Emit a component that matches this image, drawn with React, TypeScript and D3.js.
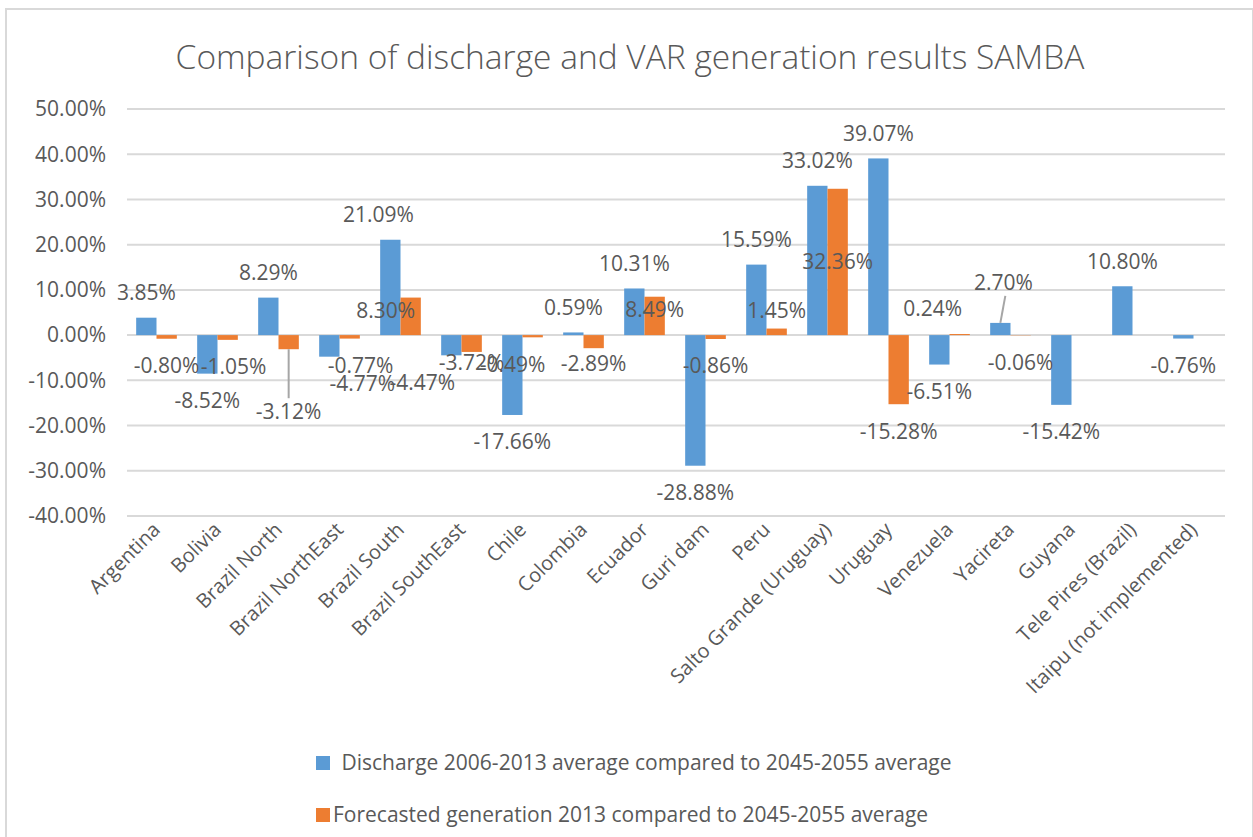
import React, { useRef, useEffect } from 'react';
import * as d3 from 'd3';

const categories = [
  'Argentina', 'Bolivia', 'Brazil North', 'Brazil NorthEast', 'Brazil South',
  'Brazil SouthEast', 'Chile', 'Colombia', 'Ecuador', 'Guri dam', 'Peru',
  'Salto Grande (Uruguay)', 'Uruguay', 'Venezuela', 'Yacireta', 'Guyana',
  'Tele Pires (Brazil)', 'Itaipu (not implemented)'
];

// discharge 2006-2013 vs 2045-2055 (%)
const discharge = [3.85, -8.52, 8.29, -4.77, 21.09, -4.47, -17.66, 0.59, 10.31,
  -28.88, 15.59, 33.02, 39.07, -6.51, 2.70, -15.42, 10.80, -0.76];

// forecasted generation 2013 vs 2045-2055 (%)
const generation = [-0.80, -1.05, -3.12, -0.77, 8.30, -3.72, -0.49, -2.89, 8.49,
  -0.86, 1.45, 32.36, -15.28, 0.24, -0.06, null, null, null];

const seriesNames = [
  ' Discharge 2006-2013 average compared to 2045-2055 average',
  'Forecasted generation 2013 compared to 2045-2055 average'
];

const yTicks = [50, 40, 30, 20, 10, 0, -10, -20, -30, -40];

const COLORS = ['#5b9bd5', '#ed7d31'];
const TEXT = '#595959';
const GRID = '#d9d9d9';
const FONT = '"Open Sans", sans-serif';

const pct = (v: number) => v.toFixed(2) + '%'; // plain hyphen like Excel

// labels that were dragged by hand in the original sheet
const nudges: Record<string, { dx?: number; dy?: number; leader?: boolean }> = {
  'd-3': { dx: 33 },
  'd-4': { dx: -12 },
  'd-5': { dx: -29 },
  'd-14': { dx: 3, dy: -15, leader: true },
  'g-1': { dx: 6 },
  'g-2': { dy: 35, leader: true },
  'g-3': { dx: 11 },
  'g-4': { dx: -25, dy: 38 },
  'g-5': { dy: -16 },
  'g-6': { dx: -20 },
  'g-7': { dy: -12 },
  'g-8': { dy: 38 },
  'g-10': { dy: 7 },
  'g-11': { dy: 98 },
  'g-13': { dx: -27 },
};

function App() {
  const ref = useRef<SVGSVGElement>(null);

  useEffect(() => {
    if (!ref.current) return;
    const W = 1253, H = 837;
    const svg = d3.select(ref.current);
    svg.selectAll('*').remove();

    svg.append('rect').attr('width', W).attr('height', H).attr('fill', '#fff');
    // chart border
    svg.append('rect')
      .attr('x', 6).attr('y', 9).attr('width', W - 6).attr('height', H)
      .attr('fill', 'none').attr('stroke', GRID).attr('stroke-width', 2);

    svg.append('text')
      .attr('x', 630).attr('y', 69)
      .attr('text-anchor', 'middle')
      .attr('font-family', FONT).attr('font-weight', 300)
      .attr('font-size', 33.5).attr('fill', TEXT)
      .text('Comparison of discharge and VAR generation results SAMBA');

    const x0 = d3.scaleBand<string>()
      .domain(categories)
      .range([126, 1224])
      .paddingInner(1 / 3)
      .paddingOuter(1 / 6);
    const x1 = d3.scaleBand<string>()
      .domain(['d', 'g'])
      .range([0, x0.bandwidth()]);
    const y = d3.scaleLinear().domain([-40, 50]).range([516, 109]);

    // gridlines + tick labels
    const grid = svg.append('g');
    grid.selectAll('line')
      .data(yTicks)
      .enter().append('line')
      .attr('x1', 127).attr('x2', 1225)
      .attr('y1', d => y(d)).attr('y2', d => y(d))
      .attr('stroke', GRID).attr('stroke-width', 2);
    grid.selectAll('text')
      .data(yTicks)
      .enter().append('text')
      .attr('x', 106).attr('y', d => y(d))
      .attr('dy', '0.35em')
      .attr('text-anchor', 'end')
      .attr('font-family', FONT).attr('font-size', 21).attr('fill', TEXT)
      .text(d => pct(d));

    const series = [
      { key: 'd', values: discharge },
      { key: 'g', values: generation },
    ];

    const bars = svg.append('g');
    series.forEach((s, si) => {
      const pts = s.values
        .map((v, i) => ({ v, c: categories[i], i }))
        .filter(p => p.v !== null) as { v: number; c: string; i: number }[];
      bars.selectAll(`.bar-${s.key}`)
        .data(pts)
        .enter().append('rect')
        .attr('class', `bar-${s.key}`)
        .attr('x', d => (x0(d.c) as number) + (x1(s.key) as number))
        .attr('width', x1.bandwidth())
        .attr('y', d => y(Math.max(0, d.v)))
        .attr('height', d => Math.abs(y(d.v) - y(0)))
        .attr('fill', COLORS[si]);
    });

    // data labels
    const labels = svg.append('g');
    series.forEach(s => {
      s.values.forEach((v, i) => {
        if (v === null) return;
        const cx = (x0(categories[i]) as number) + (x1(s.key) as number) + x1.bandwidth() / 2;
        const end = y(v);
        const n = nudges[`${s.key}-${i}`] || {};
        const lx = cx + (n.dx || 0);
        const ly = (v >= 0 ? end - 25 : end + 27) + (n.dy || 0);
        if (n.leader) {
          const ty = v >= 0 ? ly + 13 : ly - 13;
          labels.append('line')
            .attr('x1', cx).attr('y1', end)
            .attr('x2', v >= 0 ? cx + 5 : cx).attr('y2', ty)
            .attr('stroke', '#a6a6a6').attr('stroke-width', 2);
        }
        labels.append('text')
          .attr('x', lx).attr('y', ly)
          .attr('dy', '0.35em')
          .attr('text-anchor', 'middle')
          .attr('font-family', FONT).attr('font-size', 21).attr('fill', TEXT)
          .text(pct(v));
      });
    });

    // category labels
    svg.append('g').selectAll('text')
      .data(categories)
      .enter().append('text')
      .attr('transform', d => `translate(${(x0(d) as number) + x0.bandwidth() / 2},${526}) rotate(-45)`)
      .attr('text-anchor', 'end')
      .attr('dy', '0.35em')
      .attr('font-family', FONT).attr('font-size', 20).attr('fill', TEXT)
      .text(d => d);

    // legend
    const legend = svg.append('g');
    const legendPos = [{ sx: 316, y: 763, tx: 336 }, { sx: 316, y: 815, tx: 333 }];
    seriesNames.forEach((name, i) => {
      legend.append('rect')
        .attr('x', legendPos[i].sx).attr('y', legendPos[i].y - 7)
        .attr('width', 14).attr('height', 14)
        .attr('fill', COLORS[i]);
      legend.append('text')
        .attr('x', legendPos[i].tx).attr('y', legendPos[i].y)
        .attr('dy', '0.35em')
        .style('white-space', 'pre')
        .attr('font-family', FONT).attr('font-size', 21).attr('fill', TEXT)
        .text(name);
    });
  }, []);

  return (
    <div style={{ position: 'absolute', left: 0, top: 0 }}>
      <svg ref={ref} width={1253} height={837} style={{ display: 'block' }} />
    </div>
  );
}

export default App;
